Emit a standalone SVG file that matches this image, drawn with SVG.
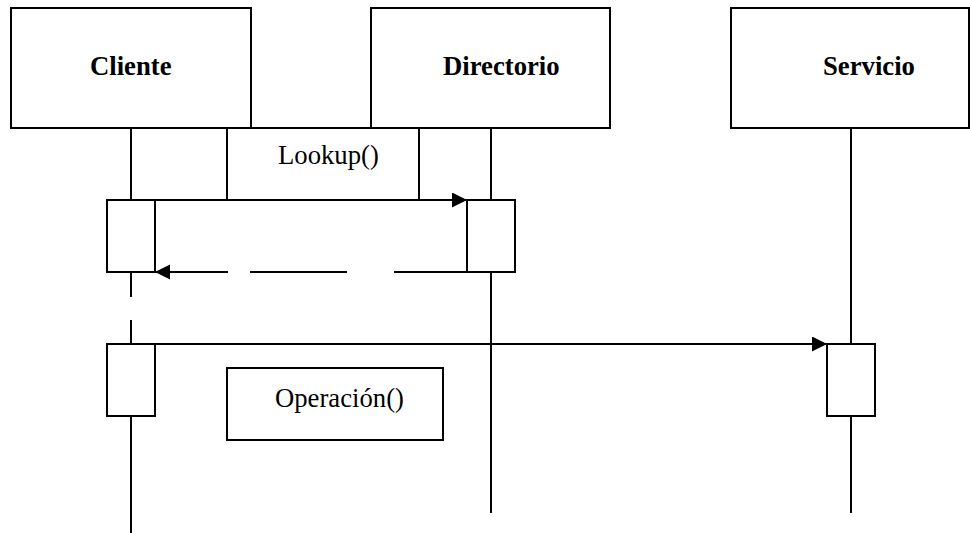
<svg xmlns="http://www.w3.org/2000/svg" width="970" height="533" viewBox="0 0 970 533">
<defs>
<style>
.box{fill:#fff;stroke:#000;stroke-width:2}
.ln{fill:none;stroke:#000;stroke-width:2}
text{font-family:'Liberation Serif','Times New Roman','DejaVu Serif',serif;font-size:26.7px;fill:#000}
.title{font-weight:bold}
</style>
<marker id="ah" markerUnits="userSpaceOnUse" markerWidth="16" markerHeight="16" refX="15" refY="7.5" orient="auto">
<path d="M0,0 L15,7.5 L0,15 Z" fill="#000"/>
</marker>
</defs>
<rect width="970" height="533" fill="#fff"/>
<g id="lifelines">
<line class="ln" x1="131" y1="128" x2="131" y2="200"/>
<line class="ln" x1="131" y1="272" x2="131" y2="297"/>
<line class="ln" x1="131" y1="320" x2="131" y2="344"/>
<line class="ln" x1="131" y1="416" x2="131" y2="533"/>
<line class="ln" x1="491" y1="128" x2="491" y2="200"/>
<line class="ln" x1="491" y1="272" x2="491" y2="513"/>
<line class="ln" x1="851" y1="128" x2="851" y2="344"/>
<line class="ln" x1="851" y1="416" x2="851" y2="513"/>
</g>
<g id="cliente">
<rect class="box" x="11" y="8" width="240" height="120"/>
<text class="title" x="90" y="75" font-family="Liberation Serif, serif">Cliente</text>
</g>
<g id="directorio">
<rect class="box" x="371" y="8" width="239" height="120"/>
<text class="title" x="443" y="75" font-family="Liberation Serif, serif">Directorio</text>
</g>
<g id="servicio">
<rect class="box" x="731" y="8" width="238" height="120"/>
<text class="title" x="823" y="75" font-family="Liberation Serif, serif">Servicio</text>
</g>
<g id="lookup-label">
<rect class="box" x="227" y="128" width="192" height="72"/>
<text x="278" y="164" font-family="Liberation Serif, serif">Lookup()</text>
</g>
<g id="operacion-label">
<rect class="box" x="227" y="368" width="216" height="72"/>
<text x="275" y="407" font-family="Liberation Serif, serif">Operación()</text>
</g>
<g id="activations">
<rect class="box" x="107" y="200" width="48" height="72"/>
<rect class="box" x="467" y="200" width="48" height="72"/>
<rect class="box" x="107" y="344" width="48" height="72"/>
<rect class="box" x="827" y="344" width="48" height="72"/>
</g>
<g id="connectors">
<line class="ln" x1="155" y1="200" x2="467" y2="200" marker-end="url(#ah)"/>
<line class="ln" x1="467" y1="272" x2="394" y2="272"/>
<line class="ln" x1="347" y1="272" x2="250" y2="272"/>
<line class="ln" x1="228" y1="272" x2="155" y2="272" marker-end="url(#ah)"/>
<line class="ln" x1="155" y1="344" x2="827" y2="344" marker-end="url(#ah)"/>
</g>
</svg>
